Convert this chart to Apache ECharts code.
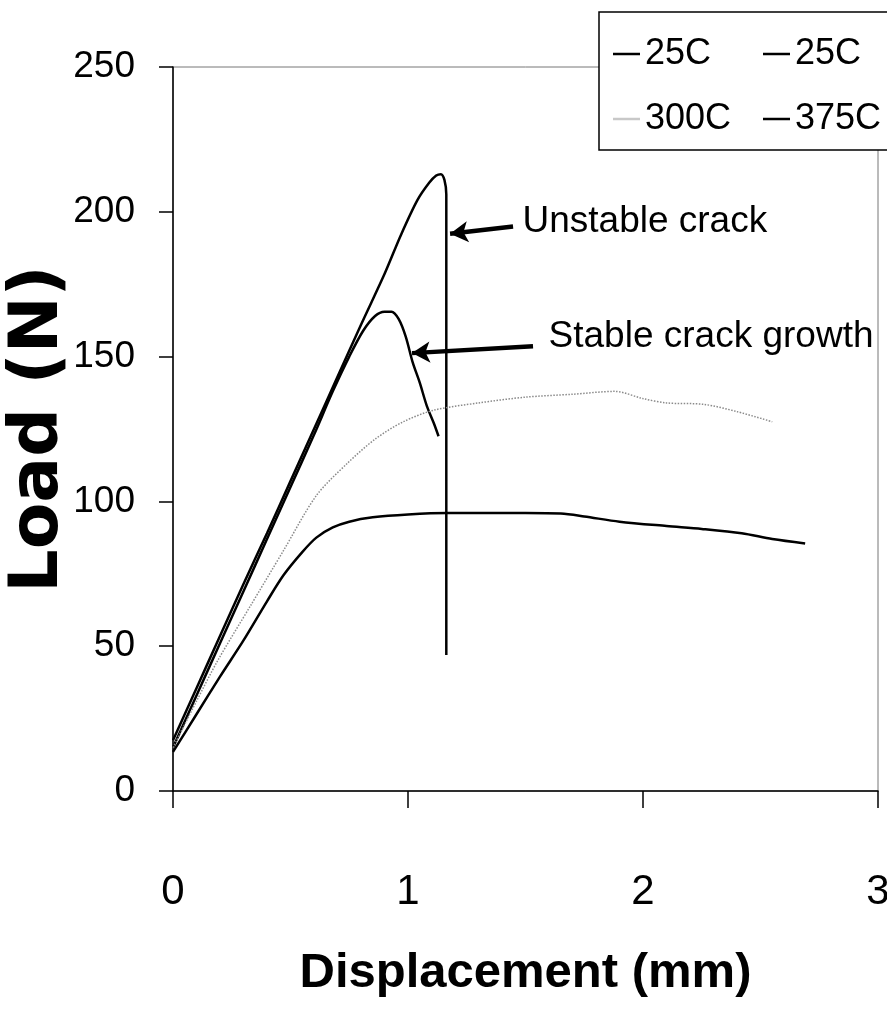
<!DOCTYPE html>
<html>
<head>
<meta charset="utf-8">
<script src="https://cdn.jsdelivr.net/npm/echarts@6/dist/echarts.min.js"></script>
<style>
html,body{margin:0;padding:0;background:#fff;}
#chart{width:887px;height:1017px;}
</style>
</head>
<body>
<div id="chart"></div>
<script>
// ---- data ----
const seriesNames = ['25C#1', '25C#2', '300C', '375C'];

// 25C – unstable crack
const dispUnstable25 = [0, 0.1, 0.2, 0.3, 0.4, 0.5, 0.6, 0.7, 0.8, 0.9, 0.97, 1.04, 1.09, 1.12, 1.14, 1.155, 1.163, 1.163, 1.163];
const loadUnstable25 = [17.5, 35.5, 53.5, 71.5, 89, 107, 125, 143, 161, 178.5, 192, 204, 210, 212.5, 213, 211, 206, 130, 47];

// 25C – stable crack growth
const dispStable25 = [0, 0.1, 0.2, 0.3, 0.4, 0.5, 0.6, 0.68, 0.75, 0.81, 0.86, 0.9, 0.93, 0.96, 0.99, 1.02, 1.05, 1.08, 1.11, 1.13];
const loadStable25 = [15, 33, 51, 69, 87, 105, 123, 138, 150, 159, 164, 165.5, 165.5, 163, 157, 148, 141, 133, 127, 122.5];

// 300C
const disp300 = [0, 0.1, 0.19, 0.33, 0.47, 0.61, 0.74, 0.86, 0.98, 1.11, 1.3, 1.5, 1.7, 1.88, 2.0, 2.1, 2.26, 2.4, 2.55];
const load300 = [15, 31, 45, 64, 83, 102, 113, 121.5, 127.5, 131.5, 134, 136, 137, 138, 135.5, 134, 133.5, 131, 127.5];

// 375C
const disp375 = [0, 0.1, 0.2, 0.3, 0.4, 0.47, 0.55, 0.61, 0.68, 0.75, 0.85, 1.0, 1.17, 1.3, 1.5, 1.65, 1.75, 1.9, 2.1, 2.25, 2.42, 2.55, 2.69];
const load375 = [13.5, 26.5, 39.5, 52, 65.5, 74.5, 82.5, 87.5, 91, 93, 94.5, 95.5, 96, 96, 96, 95.8, 94.8, 93, 91.5, 90.5, 89, 87, 85.5];

// annotations
const annoTexts = ['Unstable crack', 'Stable crack growth'];
const annoTextAt = [[1.485, 196.4], [1.596, 156.7]];
const arrowFrom = [[1.447, 194.9], [1.532, 153.6]];
const arrowTo = [[1.179, 192.4], [1.017, 151.2]];

// axes
const xMin = 0, xMax = 3, xStep = 1;
const yMin = 0, yMax = 250, yStep = 50;
const xTitle = 'Displacement (mm)';
const yTitle = 'Load (N)';

// ---- chart ----
const SANS = "'Liberation Sans', Arial, sans-serif";
const zip = (xs, ys) => xs.map((x, i) => [x, ys[i]]);

const chart = echarts.init(document.getElementById('chart'), null, {renderer: 'canvas'});

const solid = {color: '#000', width: 2.5};

const option = {
  animation: false,
  backgroundColor: '#fff',
  grid: {left: 173, right: 9, top: 67, bottom: 226, outerBoundsMode: 'none', containLabel: false,
         show: true, borderColor: '#777', borderWidth: 1, backgroundColor: 'transparent'},
  legend: {
    data: [
      {name: seriesNames[0]},
      {name: seriesNames[1]},
      {name: seriesNames[2], itemStyle: {color: '#c8c8c8'}},
      {name: seriesNames[3]}
    ],
    left: 599, top: 12,
    width: 290,
    orient: 'horizontal',
    padding: [17, 10, 6, 14],
    icon: 'rect',
    itemWidth: 27, itemHeight: 2.5,
    itemGap: 15,
    backgroundColor: '#fff',
    borderColor: '#000', borderWidth: 1.5, borderRadius: 0,
    formatter: name => name.replace(/#\d$/, ''),
    textStyle: {fontFamily: SANS, fontSize: 36, color: '#000', width: 103, lineHeight: 50}
  },
  xAxis: {
    type: 'value', min: xMin, max: xMax, interval: xStep,
    name: xTitle, nameLocation: 'middle', nameGap: 158, nameMoveOverlap: false,
    nameTextStyle: {fontFamily: SANS, fontWeight: 'bold', fontSize: 49, color: '#000'},
    axisLine: {show: true, lineStyle: {color: '#000', width: 1.5}},
    axisTick: {show: true, length: 17, inside: false, lineStyle: {color: '#000', width: 1.5}},
    axisLabel: {fontFamily: SANS, fontSize: 42, color: '#000', margin: 80},
    splitLine: {show: false}
  },
  yAxis: {
    type: 'value', min: yMin, max: yMax, interval: yStep,
    name: yTitle, nameLocation: 'middle', nameGap: 100, nameRotate: 90, nameMoveOverlap: false,
    nameTextStyle: {fontFamily: "'DejaVu Sans', sans-serif", fontWeight: 'bold', fontSize: 68, color: '#000'},
    axisLine: {show: true, lineStyle: {color: '#000', width: 1.5}},
    axisTick: {show: true, length: 14, inside: false, lineStyle: {color: '#000', width: 1.5}},
    axisLabel: {fontFamily: SANS, fontSize: 37, color: '#000', margin: 38},
    splitLine: {show: false}
  },
  series: [
    {
      name: seriesNames[0], type: 'line', data: zip(dispUnstable25, loadUnstable25),
      showSymbol: false, symbol: 'none', smooth: 0.3, lineStyle: solid, itemStyle: {color: '#000'},
      markLine: {
        silent: true, symbol: ['none', 'arrow'], symbolSize: [16, 18],
        lineStyle: {color: '#000', width: 4.5, type: 'solid'},
        label: {show: false},
        data: arrowFrom.map((f, i) => [{coord: f}, {coord: arrowTo[i]}])
      },
      markPoint: {
        silent: true, symbol: 'circle', symbolSize: 1,
        itemStyle: {color: 'rgba(0,0,0,0)'},
        label: {show: true, position: 'right', distance: 0, fontFamily: SANS, fontSize: 37, color: '#000'},
        data: annoTexts.map((t, i) => ({coord: annoTextAt[i], value: t, label: {formatter: t}}))
      }
    },
    {
      name: seriesNames[1], type: 'line', data: zip(dispStable25, loadStable25),
      showSymbol: false, symbol: 'none', smooth: 0.3, lineStyle: solid, itemStyle: {color: '#000'}
    },
    {
      name: seriesNames[2], type: 'line', data: zip(disp300, load300),
      showSymbol: false, symbol: 'none', smooth: 0.3,
      lineStyle: {color: '#8a8a8a', width: 1.5, type: 'dotted'}, itemStyle: {color: '#8a8a8a'}
    },
    {
      name: seriesNames[3], type: 'line', data: zip(disp375, load375),
      showSymbol: false, symbol: 'none', smooth: 0.3, lineStyle: solid, itemStyle: {color: '#000'}
    }
  ]
};
chart.setOption(option);
</script>
</body>
</html>
